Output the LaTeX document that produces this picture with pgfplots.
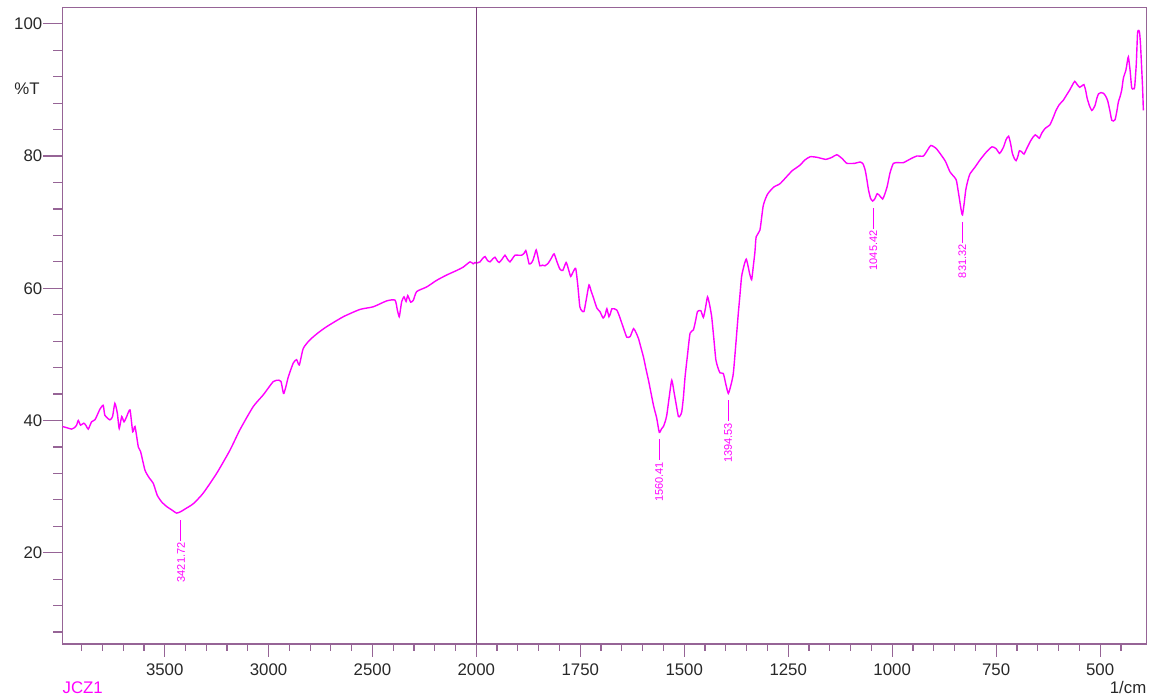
\documentclass[border=0pt]{standalone}
\usepackage{pgfplots}
\pgfplotsset{compat=1.18}
\usepackage{pgfplotstable}
\usepackage{fontspec}
\setmainfont{Liberation Sans}
\definecolor{spec}{RGB}{255,0,255}
\definecolor{axcol}{RGB}{150,100,150}
\definecolor{midline}{RGB}{110,45,110}
\definecolor{lab}{RGB}{40,40,40}

\pgfplotstableread{
wn T
3993 39.1
3970 38.9
3948 38.7
3935 38.9
3924 39.3
3916 40.0
3905 39.3
3889 39.6
3878 39.2
3868 38.7
3852 39.8
3836 40.1
3825 40.8
3812 41.7
3796 42.3
3788 40.8
3764 40.1
3751 40.6
3740 42.6
3728 41.1
3719 38.8
3707 40.6
3696 39.8
3683 40.6
3667 41.6
3654 38.3
3643 39.1
3627 36.0
3616 35.3
3595 32.5
3574 31.3
3555 30.5
3536 28.7
3515 27.7
3491 27.0
3467 26.5
3443 26.0
3424 26.2
3403 26.6
3363 27.4
3315 29.0
3250 32.0
3186 35.5
3138 38.6
3074 42.1
3025 43.9
2977 45.9
2950 46.1
2940 45.9
2930 44.3
2926 44.1
2915 45.3
2905 46.6
2881 48.7
2865 49.2
2852 48.4
2833 50.9
2801 52.2
2760 53.3
2720 54.2
2640 55.7
2560 56.8
2496 57.2
2431 58.1
2391 58.2
2380 56.7
2371 55.7
2365 56.8
2359 58.0
2348 58.7
2338 58.0
2330 58.9
2316 57.9
2303 58.2
2287 59.5
2239 60.2
2191 61.2
2143 62.0
2094 62.7
2063 63.2
2030 64.0
2015 63.7
2006 63.9
2000 63.8
}\leftdata

\pgfplotstableread{
wn T
2000 63.8
1991 64.0
1985 64.5
1979 64.8
1973 64.2
1967 64.0
1961 64.4
1955 64.7
1950 64.2
1945 63.9
1938 64.4
1931 65.0
1925 64.4
1919 64.0
1913 64.5
1907 65.0
1899 65.0
1891 65.0
1885 65.3
1881 65.7
1877 64.8
1873 63.7
1868 63.8
1864 64.2
1860 65.0
1856 65.8
1852 64.8
1847 63.4
1841 63.5
1835 63.4
1827 63.8
1820 64.5
1813 65.2
1806 64.0
1799 62.9
1792 62.7
1784 63.9
1778 62.8
1773 61.8
1767 62.5
1761 63.0
1756 60.5
1751 57.2
1746 56.6
1741 56.5
1735 58.5
1729 60.5
1724 59.6
1719 58.7
1710 57.0
1703 56.5
1695 55.5
1690 56.0
1686 56.9
1681 55.7
1677 56.3
1674 56.9
1668 56.9
1662 56.7
1656 55.8
1650 54.7
1644 53.6
1638 52.6
1630 52.7
1622 53.9
1616 53.3
1610 52.4
1604 51.0
1598 49.6
1592 47.8
1586 46.1
1580 44.2
1574 42.3
1570 41.3
1566 40.3
1560 38.2
1555 38.7
1550 39.1
1546 39.8
1542 40.8
1536 43.6
1530 46.1
1524 44.1
1519 42.3
1514 40.6
1510 40.7
1506 41.3
1502 43.5
1498 46.6
1492 50.0
1486 53.2
1478 53.7
1473 55.0
1468 56.5
1460 56.6
1454 55.6
1449 57.0
1444 58.7
1439 57.5
1434 55.7
1429 52.5
1424 49.2
1419 48.0
1414 47.2
1406 47.1
1400 45.5
1394 44.1
1388 45.3
1382 47.1
1376 51.5
1370 56.2
1366 59.0
1362 61.8
1356 63.5
1351 64.4
1347 63.5
1343 62.3
1338 61.3
1334 63.3
1330 65.5
1327 67.8
1318 68.8
1310 72.5
1300 74.2
1285 75.3
1270 75.8
1255 76.8
1240 77.8
1222 78.6
1210 79.4
1197 79.9
1180 79.8
1160 79.5
1145 79.8
1133 80.2
1120 79.6
1109 78.9
1090 78.9
1077 79.1
1070 78.8
1065 77.9
1061 76.5
1057 74.9
1052 73.6
1047 73.2
1042 73.5
1036 74.3
1030 74.0
1023 73.5
1018 74.2
1012 75.4
1005 77.5
997 78.9
985 79.0
973 79.0
955 79.6
941 80.0
925 80.0
915 80.9
907 81.6
895 81.2
885 80.4
872 79.2
861 77.6
853 77.0
846 76.4
842 75.0
838 73.4
834 71.8
831 71.1
827 72.8
823 74.9
818 76.3
813 77.3
800 78.4
789 79.4
775 80.5
760 81.4
750 81.1
742 80.4
737 80.8
732 81.4
726 82.5
720 83.0
715 81.8
711 80.4
706 79.6
702 79.3
698 79.9
694 80.8
688 80.6
683 80.3
676 81.2
668 82.2
662 82.8
656 83.2
650 82.9
646 82.7
640 83.5
632 84.2
621 84.7
613 85.8
606 86.9
598 87.8
589 88.4
581 89.2
573 90.0
567 90.7
561 91.3
555 90.8
549 90.4
544 90.6
539 90.8
535 90.0
531 88.7
525 87.5
520 86.9
516 87.2
512 87.7
508 88.7
504 89.4
498 89.6
492 89.5
487 89.1
482 88.4
477 87.0
472 85.4
468 85.3
464 85.5
460 86.7
456 88.2
452 89.0
448 90.0
444 91.8
438 93.0
434 94.5
432 95.0
428 93.0
424 90.3
420 90.2
417 90.4
413 94.0
410 98.6
407 99.0
405 98.6
403 97.0
401 94.5
398 90.5
396 86.9
}\rightdata

\pgfplotsset{
  common/.style={
    scale only axis,
    height=318.35pt,
    ymin=6.2, ymax=102.5,
    x dir=reverse,
    axis line style={axcol, line width=0.6pt},
    tick align=outside,
    xtick pos=bottom, ytick pos=left,
    major tick length=6.5pt, minor tick length=3.5pt,
    every tick/.style={axcol, line width=0.6pt},
    tick label style={font=\fontsize{8.4}{10}\selectfont, text=lab},
    /pgf/number format/assume math mode=true,
    /pgf/number format/1000 sep={},
    /pgf/number format/fixed,
  },
}
\tikzset{
  pk/.style={spec, line width=0.5pt},
  pklab/.style={rotate=90, anchor=east, inner sep=0.5pt, text=spec, font=\fontsize{5.5}{6}\selectfont},
}

\begin{document}
\begin{tikzpicture}
\path[use as bounding box] (-31.15pt,-27.5pt) rectangle (547.35pt,322pt);

\begin{axis}[common,
  at={(0pt,0pt)}, anchor=south west,
  width=207pt,
  xmin=2000, xmax=3993,
  xtick={2000,2500,3000,3500},
  minor xtick={2100,2200,...,3900},
  ytick={20,40,60,80,100},
  minor ytick={8,12,...,100},
  ytick style={/pgfplots/major tick length=9.5pt, /pgfplots/minor tick length=4.5pt},
]
\addplot[spec, line width=0.7pt, smooth, tension=0.35] table[x=wn, y=T] {\leftdata};
\draw[pk] ([yshift=-3.5pt]axis cs:3421.72,26.0) -- ++(0pt,-10.5pt)
  node[pklab] {3421.72};
\end{axis}

\begin{axis}[common,
  at={(207pt,0pt)}, anchor=south west,
  width=335.2pt,
  xmin=388, xmax=2000,
  xtick={500,750,1000,1250,1500,1750},
  minor xtick={450,500,...,1950},
  ytick=\empty,
]
\addplot[spec, line width=0.7pt, smooth, tension=0.35] table[x=wn, y=T] {\rightdata};
\draw[midline, line width=0.7pt] (axis cs:2000,6.2) -- (axis cs:2000,102.5);
\draw[pk] ([yshift=-3.5pt]axis cs:1560.41,38.2) -- ++(0pt,-10.5pt)
  node[pklab] {1560.41};
\draw[pk] ([yshift=-3.5pt]axis cs:1394.53,44.1) -- ++(0pt,-10.5pt)
  node[pklab] {1394.53};
\draw[pk] ([yshift=-3.5pt]axis cs:1045.42,73.2) -- ++(0pt,-10.5pt)
  node[pklab] {1045.42};
\draw[pk] ([yshift=-3.5pt]axis cs:831.32,71.1) -- ++(0pt,-10.5pt)
  node[pklab] {831.32};
\end{axis}

\node[anchor=east, inner sep=0pt, text=lab, font=\fontsize{8.4}{10}\selectfont] at (-11.15pt, 277.4pt) {\%T};
\node[anchor=east, inner sep=0pt, text=lab, font=\fontsize{8.4}{10}\selectfont] at (542.2pt, -22pt) {1/cm};
\node[anchor=west, inner sep=0pt, text=spec, font=\fontsize{8.4}{10}\selectfont] at (0pt, -22pt) {JCZ1};
\end{tikzpicture}
\end{document}
